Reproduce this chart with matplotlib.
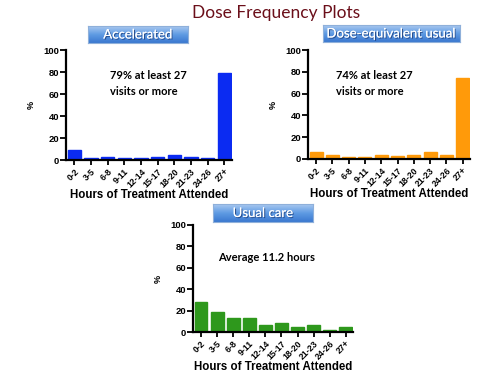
import matplotlib
matplotlib.use("Agg")
import matplotlib.pyplot as plt
import matplotlib.patheffects as pe
from matplotlib.colors import LinearSegmentedColormap
import numpy as np

categories = ["0-2", "3-5", "6-8", "9-11", "12-14", "15-17", "18-20", "21-23", "24-26", "27+"]
accelerated = [9, 1.5, 2.5, 1.5, 1.5, 2.5, 5, 2.5, 1.5, 79]
dose_equivalent = [6, 3.5, 1.5, 2, 3.5, 2.5, 3.5, 6, 3.5, 74]
usual_care = [28, 19, 13, 13, 6.5, 8, 4.5, 7, 2, 4.5]

panel_titles = ["Accelerated", "Dose-equivalent usual", "Usual care"]
annotations = ["79% at least 27\nvisits or more", "74% at least 27\nvisits or more", "Average 11.2 hours"]
colors = ["#0B2BF2", "#FF9A0A", "#2E981C"]
yticks = [0, 20, 40, 60, 80, 100]

W, H = 500, 375
fig = plt.figure(figsize=(5, 3.75), dpi=100)
fig.patch.set_facecolor("white")

def fx(px):
    return px / W

def fy(py):
    return 1 - py / H

# axes rectangles in pixels: left, top, right, bottom
rects = [(66, 50, 232, 160), (308, 50, 470, 159), (193, 225, 353, 332)]
boxes = [(88, 26, 188, 43), (323, 25, 460, 42), (213, 204, 313, 222)]
ann_pos = [(110, 70), (336, 70), (218, 252)]

fig.text(fx(276), fy(13), "Dose Frequency Plots", ha="center", va="center",
         fontsize=12.5, color="#6B0F1A", family="Lato")

grad = np.linspace(0, 1, 50).reshape(-1, 1)
cmap = LinearSegmentedColormap.from_list("bx", ["#A9C8F0", "#5F9BE3", "#3B78D0"])

for i, data in enumerate([accelerated, dose_equivalent, usual_care]):
    l, t, r, b = rects[i]
    ax = fig.add_axes([fx(l), fy(b), fx(r - l), (b - t) / H])
    x = np.arange(len(categories))
    ax.bar(x, data, width=0.8, color=colors[i], edgecolor=colors[i])
    ax.set_xlim(-0.5, 9.45)
    ax.set_ylim(0, 100)
    ax.set_yticks(yticks)
    ax.set_xticks(x)
    ax.set_xticklabels(categories, rotation=45, ha="right", rotation_mode="anchor",
                       fontsize=6.3, fontweight="bold", family="Liberation Sans")
    ax.tick_params(axis="y", labelsize=6.8, width=1.3, length=4, pad=1)
    ax.tick_params(axis="x", width=1.3, length=3.5, pad=1.5)
    for lab in ax.get_yticklabels():
        lab.set_fontweight("bold")
        lab.set_family("Liberation Sans")
    for s in ["top", "right"]:
        ax.spines[s].set_visible(False)
    for s in ["left", "bottom"]:
        ax.spines[s].set_linewidth(1.6)
    ax.set_xlabel("Hours of Treatment Attended", fontsize=8.3, fontweight="bold",
                  family="Liberation Sans", labelpad=0)
    ax.set_ylabel("%", fontsize=6.5, fontweight="bold", family="Liberation Sans", labelpad=5)
    ax.patch.set_alpha(0)

    ax_x, ax_y = ann_pos[i]
    fig.text(fx(ax_x), fy(ax_y), annotations[i], ha="left", va="top", fontsize=8,
             fontweight="bold", family="Lato", linespacing=1.55)

    bl, bt, br, bb = boxes[i]
    bax = fig.add_axes([fx(bl), fy(bb), fx(br - bl), (bb - bt) / H])
    bax.imshow(grad, aspect="auto", cmap=cmap, extent=[0, 1, 0, 1])
    bax.set_xticks([])
    bax.set_yticks([])
    for s in bax.spines.values():
        s.set_color("#8FB0DA")
        s.set_linewidth(0.8)
    bax.text(0.5, 0.5, panel_titles[i], ha="center", va="center", color="white",
             fontsize=9.5, family="Lato", transform=bax.transAxes,
             path_effects=[pe.withSimplePatchShadow(offset=(0.8, -0.8), shadow_rgbFace="#1F3F7A", alpha=0.8), pe.Normal()])

fig.savefig("out.png", dpi=100, facecolor="white")
